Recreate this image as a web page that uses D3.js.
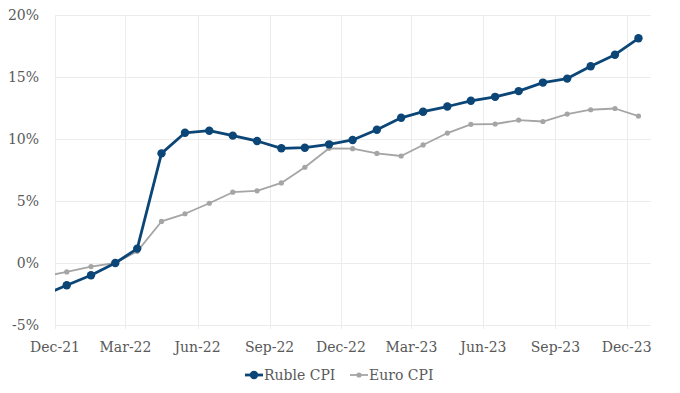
<!DOCTYPE html>
<html>
<head>
  <meta charset="utf-8">
  <script src="https://d3js.org/d3.v7.min.js"></script>
  <style>
    body { margin: 0; background: #fff; }
    text { font-family: "DejaVu Serif", serif; fill: #595959; font-size: 14px; }
    .grid line { stroke: #ececec; stroke-width: 1px; }
  </style>
</head>
<body>
  <svg width="680" height="393"></svg>
  <script>
    // monthly observations, dated mid-month (first one sits left of the axis and gets clipped)
    const months = ["2021-11", "2021-12", "2022-01", "2022-02", "2022-03", "2022-04", "2022-05", "2022-06",
      "2022-07", "2022-08", "2022-09", "2022-10", "2022-11", "2022-12", "2023-01", "2023-02", "2023-03",
      "2023-04", "2023-05", "2023-06", "2023-07", "2023-08", "2023-09", "2023-10", "2023-11", "2023-12"];
    const rubleCPI = [-2.6, -1.79, -0.99, 0, 1.16, 8.84, 10.5, 10.67, 10.27, 9.84, 9.25, 9.3, 9.57, 9.92,
      10.75, 11.71, 12.2, 12.62, 13.08, 13.4, 13.86, 14.55, 14.87, 15.87, 16.8, 18.12];
    const euroCPI = [-1.1, -0.72, -0.29, 0, 0.94, 3.35, 3.97, 4.82, 5.71, 5.82, 6.46, 7.72, 9.25, 9.22,
      8.84, 8.63, 9.52, 10.48, 11.18, 11.21, 11.53, 11.41, 12.01, 12.36, 12.46, 11.85];
    const yTicks = [-5, 0, 5, 10, 15, 20];
    const xTickLabels = ["Dec-21", "Mar-22", "Jun-22", "Sep-22", "Dec-22", "Mar-23", "Jun-23", "Sep-23", "Dec-23"];

    const parseMonth = d3.timeParse("%Y-%m");
    const dates = months.map(m => d3.timeDay.offset(parseMonth(m), 15));

    const svg = d3.select("svg");
    const mLeft = 55, mRight = 651, mTop = 15, mBottom = 325;

    const x = d3.scaleTime()
      .domain([new Date(2021, 11, 1), new Date(2024, 0, 1)])
      .range([mLeft, mRight]);
    const y = d3.scaleLinear().domain([-5, 20]).range([mBottom, mTop]);

    const xTicks = d3.timeMonth.range(new Date(2021, 11, 1), new Date(2024, 0, 1), 3);

    const grid = svg.append("g").attr("class", "grid");
    grid.selectAll(".h").data(yTicks).enter().append("line")
      .attr("x1", mLeft).attr("x2", mRight)
      .attr("y1", d => Math.round(y(d)) + 0.5).attr("y2", d => Math.round(y(d)) + 0.5);
    grid.selectAll(".v").data(xTicks).enter().append("line")
      .attr("x1", d => Math.round(x(d)) + 0.5).attr("x2", d => Math.round(x(d)) + 0.5)
      .attr("y1", mTop).attr("y2", mBottom + 4);

    svg.selectAll(".ylab").data(yTicks).enter().append("text")
      .attr("x", 39).attr("y", d => y(d) + 5)
      .attr("text-anchor", "end")
      .text(d => d + "%");

    svg.selectAll(".xlab").data(xTicks).enter().append("text")
      .attr("x", d => x(d)).attr("y", 352)
      .attr("text-anchor", "middle")
      .text((d, i) => xTickLabels[i]);

    svg.append("clipPath").attr("id", "plot")
      .append("rect").attr("x", mLeft).attr("y", 0).attr("width", mRight - mLeft).attr("height", 393);

    const series = [
      { name: "Ruble CPI", values: rubleCPI, color: "#0b4677", width: 2.8, r: 4.2 },
      { name: "Euro CPI", values: euroCPI, color: "#a5a5a5", width: 1.8, r: 2.6 }
    ];

    const line = d3.line().x((d, i) => x(dates[i])).y(d => y(d));

    const plot = svg.append("g").attr("clip-path", "url(#plot)");
    // draw euro first so ruble sits on top
    series.slice().reverse().forEach(s => {
      plot.append("path").datum(s.values)
        .attr("fill", "none").attr("stroke", s.color)
        .attr("stroke-width", s.width).attr("stroke-linejoin", "round")
        .attr("d", line);
      plot.selectAll(null).data(s.values).enter().append("circle")
        .attr("cx", (d, i) => x(dates[i])).attr("cy", d => y(d))
        .attr("r", s.r).attr("fill", s.color);
    });

    // legend
    const legendPos = [245, 350];
    series.forEach((s, i) => {
      const g = svg.append("g").attr("transform", `translate(${legendPos[i]},375)`);
      g.append("line").attr("x1", 0).attr("x2", 18).attr("y1", 0).attr("y2", 0)
        .attr("stroke", s.color).attr("stroke-width", s.width);
      g.append("circle").attr("cx", 9).attr("cy", 0).attr("r", s.r).attr("fill", s.color);
      g.append("text").attr("x", 19).attr("y", 5).text(s.name);
    });
  </script>
</body>
</html>
